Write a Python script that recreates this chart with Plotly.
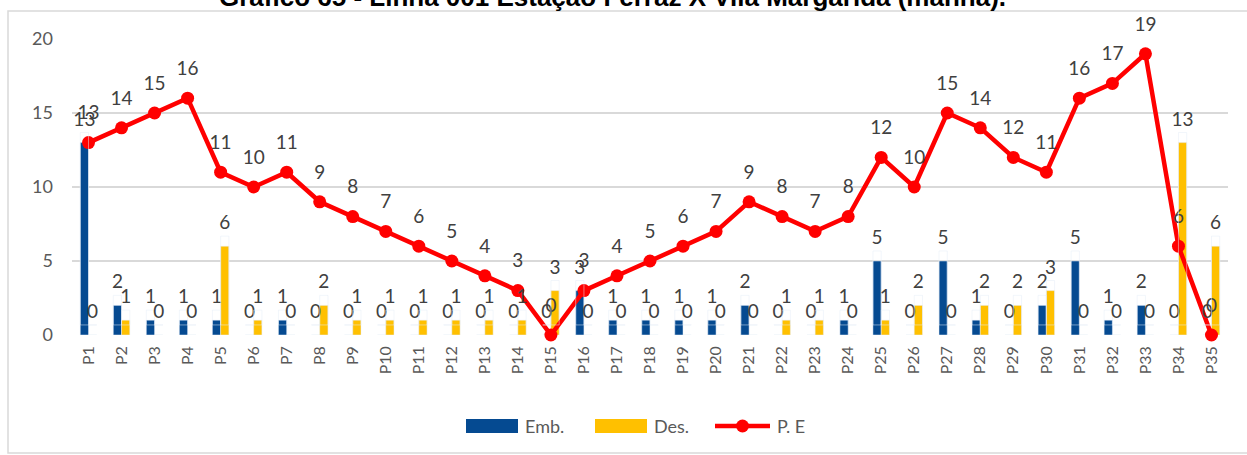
import plotly.graph_objects as go

categories = [f"P{i}" for i in range(1, 36)]
emb = [13, 2, 1, 1, 1, 0, 1, 0, 0, 0, 0, 0, 0, 0, 0, 3, 1, 1, 1, 1, 2, 0, 0, 1, 5, 0, 5, 1, 0, 2, 5, 1, 2, 0, 0]
des = [0, 1, 0, 0, 6, 1, 0, 2, 1, 1, 1, 1, 1, 1, 3, 0, 0, 0, 0, 0, 0, 1, 1, 0, 1, 2, 0, 2, 2, 3, 0, 0, 0, 13, 6]
pe = [13, 14, 15, 16, 11, 10, 11, 9, 8, 7, 6, 5, 4, 3, 0, 3, 4, 5, 6, 7, 9, 8, 7, 8, 12, 10, 15, 14, 12, 11, 16, 17, 19, 6, 0]
series_names = ["Emb.", "Des.", "P. E"]
colors = ["#054A91", "#FFC000", "#FF0000"]
title = "Gráfico 65 - Linha 001 Estação Ferraz X Vila Margarida (manhã)."

FONT = "Lato, Liberation Sans, Arial"
label_font = dict(family=FONT, size=19, color="#404040")
YMAX = 20
LABEL_LIFT = 0.68  # data-label offset above the bar end, in axis units

fig = go.Figure()
# visible bars
fig.add_trace(go.Bar(name=series_names[0], x=categories, y=emb, marker_color=colors[0],
                     showlegend=False))
fig.add_trace(go.Bar(name=series_names[1], x=categories, y=des, marker_color=colors[1],
                     showlegend=False))
# bar data labels: same bars on a slightly shifted overlay axis, transparent, text only
for vals in (emb, des):
    fig.add_trace(go.Bar(x=categories, y=vals, yaxis="y2", marker_color="rgba(0,0,0,0)",
                         text=vals, textposition="outside", textfont=label_font,
                         constraintext="none", cliponaxis=False, showlegend=False,
                         hoverinfo="skip"))
fig.add_trace(go.Scatter(name=series_names[2], x=categories, y=pe, mode="lines+markers",
                         line=dict(color=colors[2], width=4.5),
                         marker=dict(color=colors[2], size=13),
                         cliponaxis=False, showlegend=False))
# data labels of the line, raised like Excel's
fig.add_trace(go.Scatter(name=series_names[2], x=categories, y=pe, mode="markers+text",
                         marker=dict(size=28, opacity=0),
                         text=pe, textposition="top center", textfont=label_font,
                         cliponaxis=False, showlegend=False, hoverinfo="skip"))

L, R, T, B = 72, 19, 39, 120
W, H = 1247, 455
pw, ph = W - L - R, H - T - B

def px(x):
    return (x - L) / pw

def py(y):
    return (H - B - y) / ph

shapes = [dict(type="rect", xref="paper", yref="paper",
               x0=px(8), x1=px(1260), y0=py(453), y1=py(11),
               line=dict(color="#d9d9d9", width=1.5), fillcolor="rgba(0,0,0,0)", layer="below")]
annotations = [dict(text=f"<b>{title}</b>", xref="paper", yref="paper",
                    x=px(612), y=py(-3), xanchor="center", yanchor="middle",
                    showarrow=False, font=dict(family="Liberation Sans, Arial", size=26, color="black"))]

# custom legend (Excel style swatches)
ly = 426
legend_items = [(466, "bar"), (595, "bar"), (715, "line")]
for (x0, kind), name, col in zip(legend_items, series_names, colors):
    if kind == "bar":
        shapes.append(dict(type="rect", xref="paper", yref="paper",
                           x0=px(x0), x1=px(x0 + 52), y0=py(ly + 7), y1=py(ly - 7),
                           fillcolor=col, line=dict(width=0)))
        tx = x0 + 57
    else:
        shapes.append(dict(type="line", xref="paper", yref="paper",
                           x0=px(x0), x1=px(x0 + 55), y0=py(ly), y1=py(ly),
                           line=dict(color=col, width=4.5)))
        shapes.append(dict(type="circle", xref="paper", yref="paper",
                           x0=px(x0 + 21), x1=px(x0 + 34), y0=py(ly + 6.5), y1=py(ly - 6.5),
                           fillcolor=col, line=dict(width=0)))
        tx = x0 + 60
    annotations.append(dict(text=name, xref="paper", yref="paper", x=px(tx), y=py(ly),
                            xanchor="left", yanchor="middle", showarrow=False,
                            font=dict(family=FONT, size=18, color="#595959")))

fig.update_layout(
    width=W, height=H,
    margin=dict(l=L, r=R, t=T, b=B, autoexpand=False),
    paper_bgcolor="white", plot_bgcolor="white",
    barmode="group", bargap=0.5, bargroupgap=0,
    font=dict(family=FONT, color="#595959"),
    xaxis=dict(tickangle=-90, tickfont=dict(size=16, color="#595959"), showgrid=False,
               showline=False, ticks="", automargin=False, ticklabelstandoff=7,
               range=[-0.5, len(categories) - 0.5], autorange=False),
    yaxis=dict(range=[0, YMAX], dtick=5, tickfont=dict(size=18, color="#595959"),
               gridcolor="#d9d9d9", gridwidth=1.5, zeroline=False, showline=False,
               ticklabelstandoff=18, automargin=False),
    yaxis2=dict(overlaying="y", range=[-LABEL_LIFT, YMAX - LABEL_LIFT], visible=False,
                automargin=False),
    showlegend=False,
    shapes=shapes,
    annotations=annotations,
)

fig.write_html("out.html", config={"displayModeBar": False},
               post_script="document.body.style.margin='0';")
